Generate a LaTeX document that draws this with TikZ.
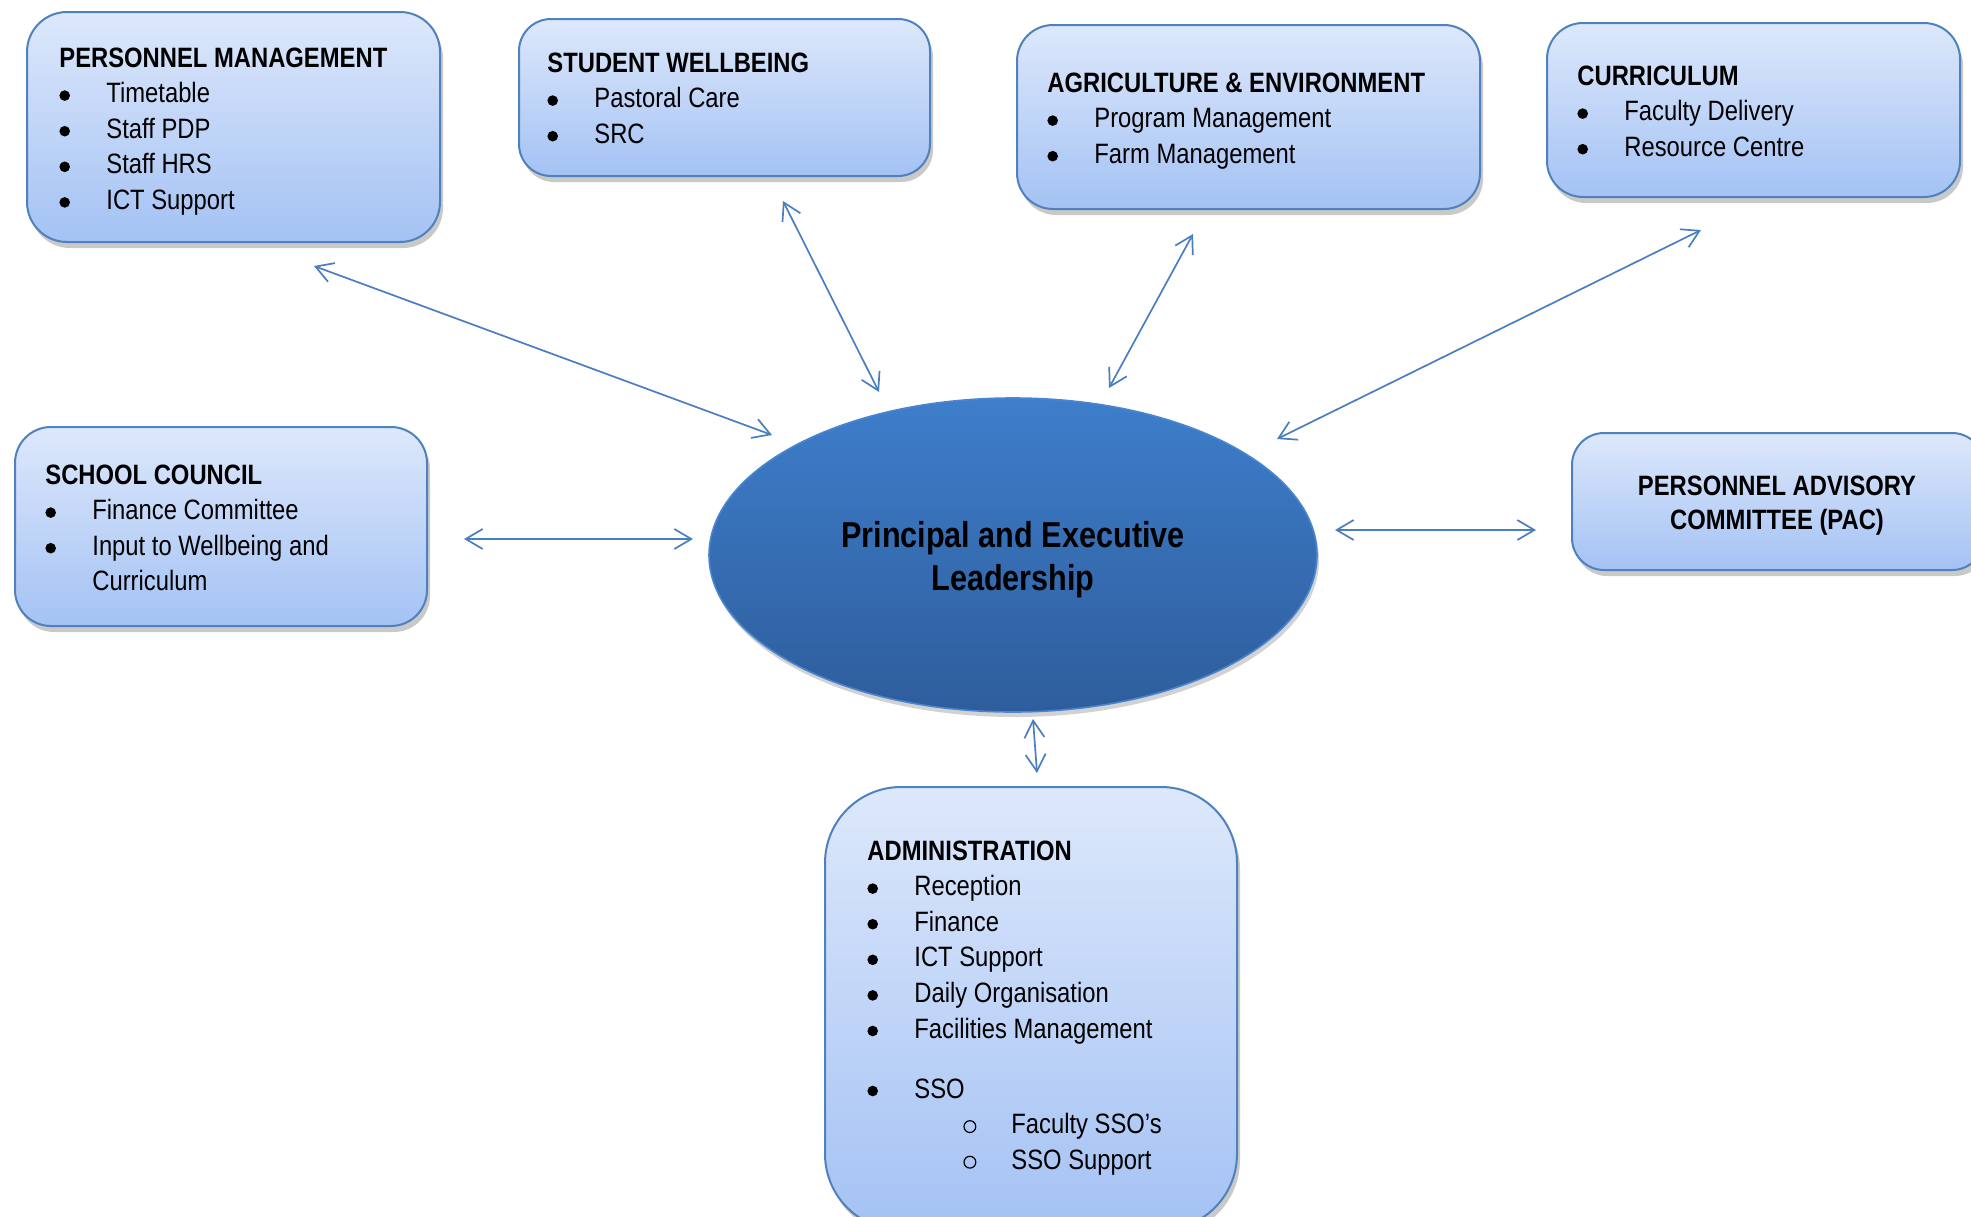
\documentclass[tikz,border=0pt]{standalone}
\usepackage{fontspec}
\setmainfont[FakeStretch=0.85]{Liberation Sans}
\usetikzlibrary{shapes.geometric,shadows,fit,arrows.meta}
\definecolor{boxtop}{HTML}{DDE8FB}
\definecolor{boxbot}{HTML}{A4C2F4}
\definecolor{boxline}{HTML}{4F81BD}
\definecolor{elltop}{HTML}{3E7ECB}
\definecolor{ellbot}{HTML}{2E5D9C}
\definecolor{ellline}{HTML}{4A86D0}
\definecolor{arrowc}{HTML}{4A7EBF}
\tikzset{
 unitbox/.style={draw=boxline, line width=1pt, top color=boxtop, bottom color=boxbot, inner sep=0pt,
   drop shadow={shadow xshift=1.5pt, shadow yshift=-3pt, opacity=0.3, fill=black!70}},
 boxtext/.style={anchor=base west, inner sep=0pt, font=\fontsize{14}{17.8}\selectfont},
 centertext/.style={anchor=base, inner sep=0pt},
 link/.style={draw=arrowc, line width=0.85pt, {Straight Barb[length=8.5pt,width=10pt]}-{Straight Barb[length=8.5pt,width=10pt]}},
}
\newcommand{\bul}{\makebox[23.5pt][l]{\tikz[baseline=0pt]\fill[black] (2.65pt,3.5pt) circle (2.65pt);}}
\newcommand{\subbul}{\hspace*{48pt}\makebox[24pt][l]{\tikz[baseline=0pt]\draw[black,line width=0.6pt] (3.2pt,3.5pt) circle (2.95pt);}}
\newcommand{\lst}[1]{\begin{tabular}[t]{@{}l@{}}#1\end{tabular}}
\newcommand{\clst}[1]{\begin{tabular}[t]{@{}c@{}}#1\end{tabular}}
\begin{document}
\begin{tikzpicture}[x=0.5pt,y=-0.5pt]
\useasboundingbox (0,0) rectangle (1971,1216);
% boxes
\node[unitbox, rounded corners=20pt, fit={(27,12) (440,242)}] (pm) {};
\node[unitbox, rounded corners=16pt, fit={(519,19) (930,176)}] (sw) {};
\node[unitbox, rounded corners=18pt, fit={(1017,25) (1480,209)}] (ag) {};
\node[unitbox, rounded corners=18pt, fit={(1547,23) (1960,197)}] (cu) {};
\node[unitbox, rounded corners=18pt, fit={(15,427) (427,626)}] (sc) {};
\node[unitbox, rounded corners=16pt, fit={(1572,433) (1984,570)}] (pac) {};
\node[unitbox, rounded corners=38pt, fit={(825,787) (1237,1230)}] (ad) {};
% ellipse
\node[ellipse, minimum width=304pt, minimum height=157pt, inner sep=0pt, draw=ellline, line width=0.8pt,
  top color=elltop, bottom color=ellbot,
  drop shadow={shadow xshift=1pt, shadow yshift=-2.5pt, opacity=0.25, fill=black!70}]
  (lead) at (1013,555) {};
% texts
\node[centertext, font=\fontsize{18}{21.5}\selectfont\bfseries] (leadt) at (1013,547) {\clst{Principal and Executive\\Leadership}};
\node[centertext, font=\fontsize{14}{17}\selectfont\bfseries] (pact) at (1777,495) {\clst{PERSONNEL ADVISORY\\COMMITTEE (PAC)}};
\node[boxtext] (pmt) at (59,67) {\lst{\textbf{PERSONNEL MANAGEMENT}\\ \bul Timetable\\ \bul Staff PDP\\ \bul Staff HRS\\ \bul ICT Support}};
\node[boxtext] (swt) at (547,72) {\lst{\textbf{STUDENT WELLBEING}\\ \bul Pastoral Care\\ \bul SRC}};
\node[boxtext] (agt) at (1047,92) {\lst{\textbf{AGRICULTURE \& ENVIRONMENT}\\ \bul Program Management\\ \bul Farm Management}};
\node[boxtext] (cut) at (1577,85) {\lst{\textbf{CURRICULUM}\\ \bul Faculty Delivery\\ \bul Resource Centre}};
\node[boxtext] (sct) at (45,484) {\lst{\textbf{SCHOOL COUNCIL}\\ \bul Finance Committee\\ \bul Input to Wellbeing and\\ \hspace*{23.5pt}Curriculum}};
\node[boxtext] (adt) at (867,860) {\lst{\textbf{ADMINISTRATION}\\ \bul Reception\\ \bul Finance\\ \bul ICT Support\\ \bul Daily Organisation\\ \bul Facilities Management\\[12.2pt] \bul SSO\\ \subbul Faculty SSO’s\\ \subbul SSO Support}};
% connector ends
\coordinate (pmA) at (314,266); \coordinate (pmB) at (772,435);
\coordinate (swA) at (783,201); \coordinate (swB) at (879,392);
\coordinate (agA) at (1193,234); \coordinate (agB) at (1109,388);
\coordinate (cuA) at (1701,230); \coordinate (cuB) at (1277,439);
\coordinate (scA) at (464,539); \coordinate (scB) at (693,539);
\coordinate (pacA) at (1536,530); \coordinate (pacB) at (1335,530);
\coordinate (adA) at (1037,773); \coordinate (adB) at (1033,719);
\draw[link] (pmA) -- (pmB);
\draw[link] (swA) -- (swB);
\draw[link] (agA) -- (agB);
\draw[link] (cuA) -- (cuB);
\draw[link] (scA) -- (scB);
\draw[link] (pacA) -- (pacB);
\draw[link] (adA) -- (adB);
\end{tikzpicture}
\end{document}
